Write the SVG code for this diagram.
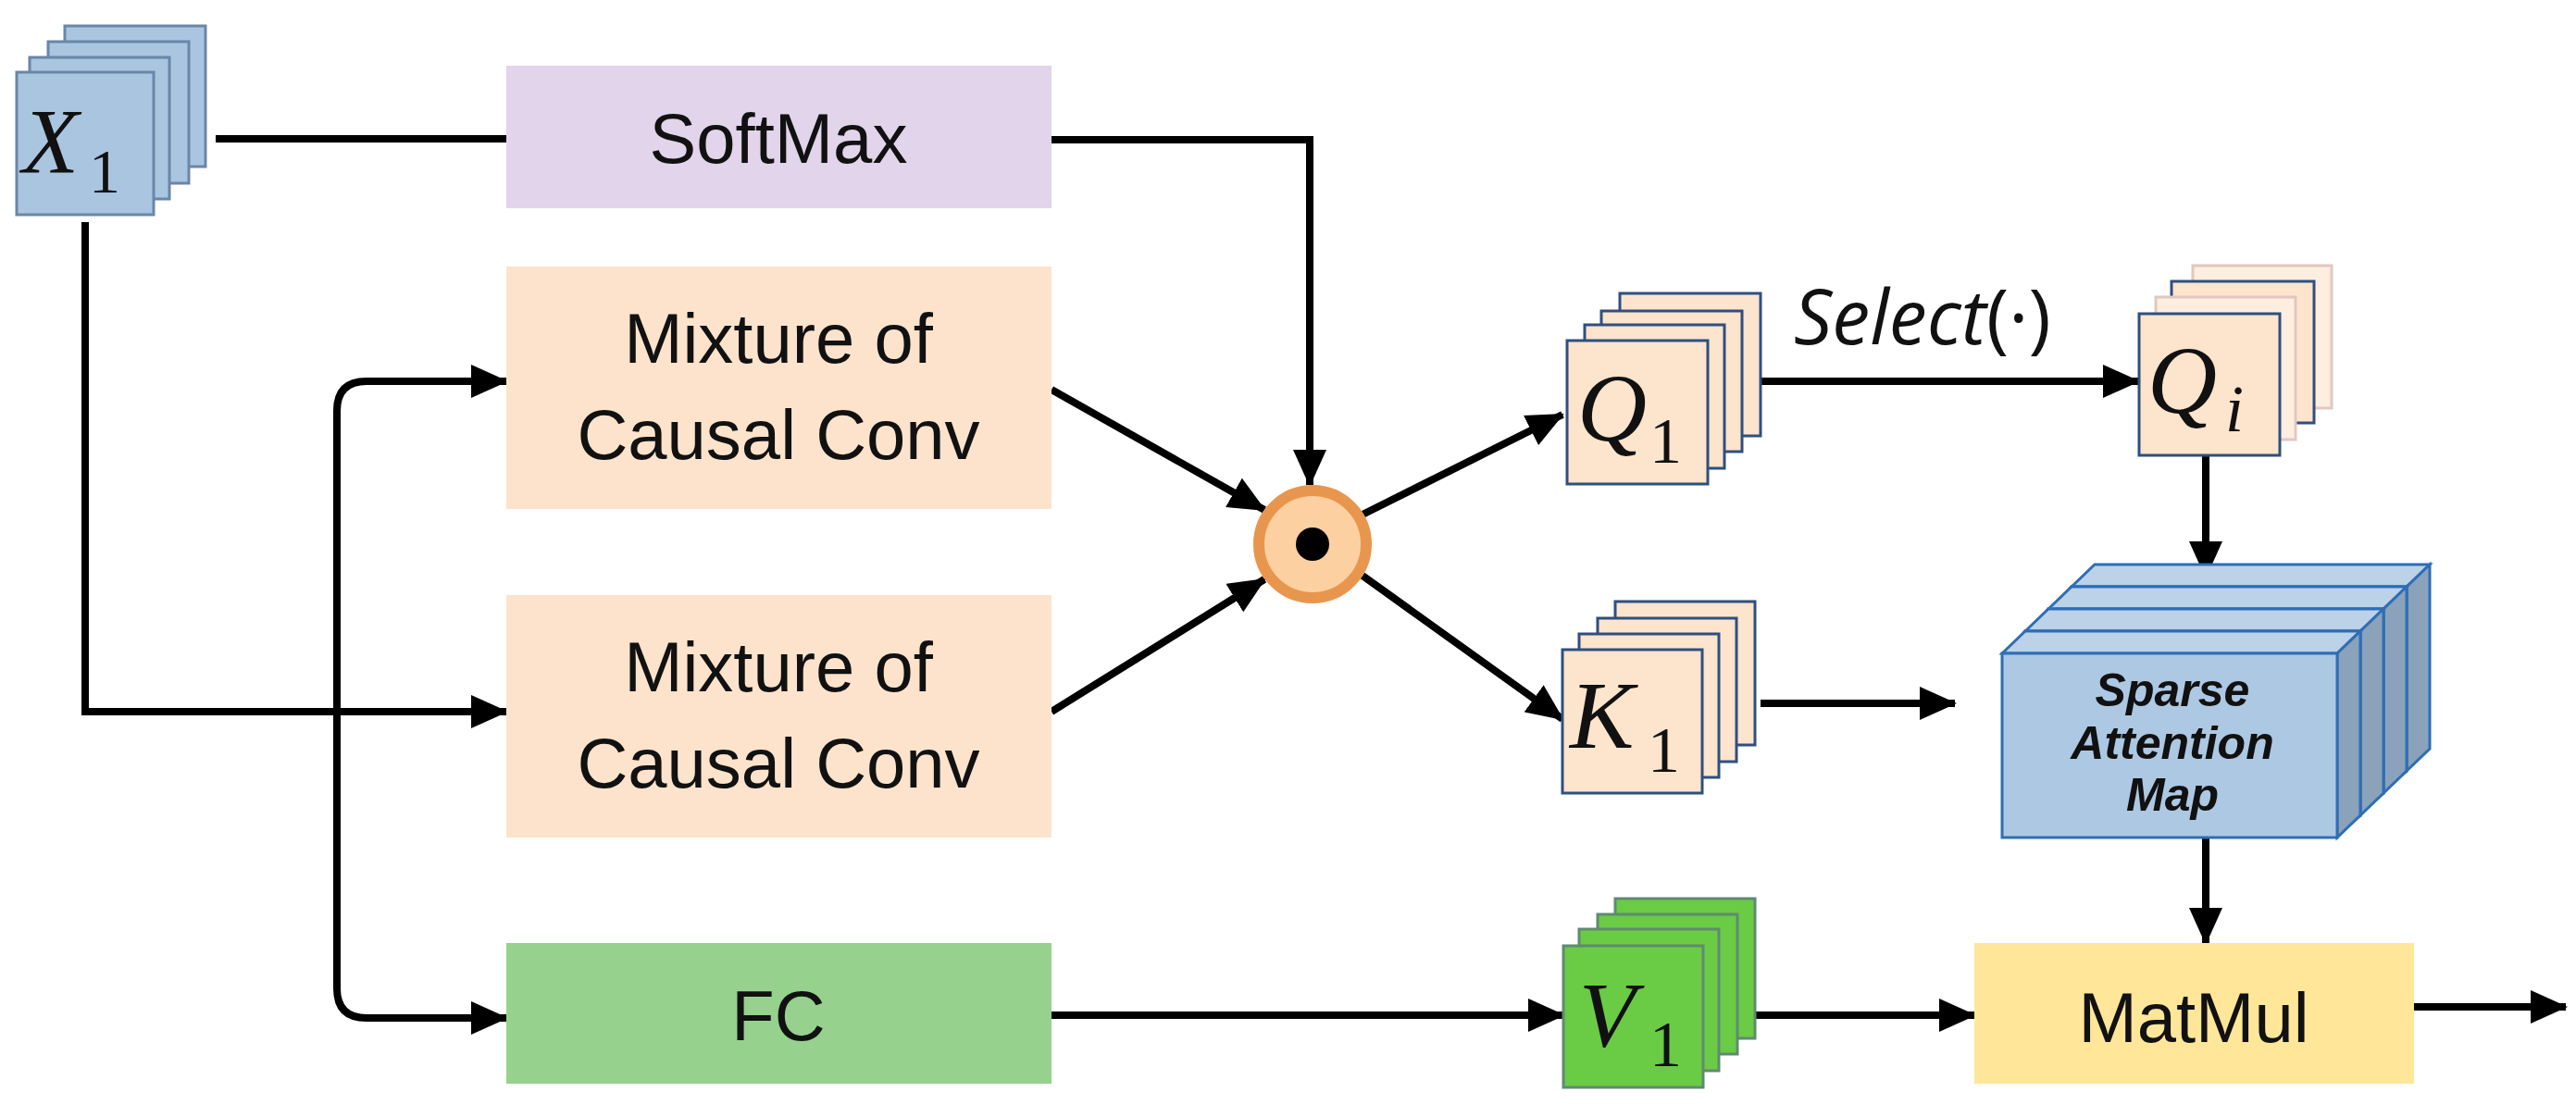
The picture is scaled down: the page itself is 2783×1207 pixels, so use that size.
<svg xmlns="http://www.w3.org/2000/svg" width="2783" height="1207" viewBox="0 0 2783 1207">
<style>
.ln{fill:none;stroke:#000;stroke-width:8}
.box{font-family:"Liberation Sans",Arial,sans-serif;font-size:76px;text-anchor:middle;fill:#111}
.m{font-family:"Liberation Serif","Times New Roman",serif;font-style:italic;fill:#111}
.s{font-family:"Liberation Serif","Times New Roman",serif;fill:#111}
.xb{fill:#a9c5e0;stroke:#6a86a8;stroke-width:3}
.qb{fill:#fde4cc;stroke:#2f4f7f;stroke-width:3}
.qf{fill:#fdeee0;stroke:#e0c8c0;stroke-width:3}
.vb{fill:#6acb45;stroke:#5f8a72;stroke-width:3}
.mf{fill:#adc8e3;stroke:#2e6eb5;stroke-width:3}
.mt{fill:#bcd2e8;stroke:#2e6eb5;stroke-width:3}
.ms{fill:#8aa3ba;stroke:#2e6eb5;stroke-width:3}
</style>
<defs>
<marker id="ar" markerUnits="userSpaceOnUse" markerWidth="40" markerHeight="36" refX="38" refY="18" orient="auto">
<path d="M0,0 L40,18 L0,36 Z" fill="#000"/>
</marker>
</defs>
<rect width="2783" height="1207" fill="#fff"/>

<g id="connectors">
<path class="ln" d="M233,150 H547"/>
<path class="ln" d="M1136,151 H1415 V524" marker-end="url(#ar)"/>
<path class="ln" d="M92,240 V769 H547" marker-end="url(#ar)"/>
<path class="ln" d="M547,412 H396 Q364,412 364,444 V1068 Q364,1100 396,1100 H547" marker-end="url(#ar)"/>
<path class="ln" d="M396,412 H547" marker-end="url(#ar)"/>
<path class="ln" d="M1136,421 L1366,551" marker-end="url(#ar)"/>
<path class="ln" d="M1136,769 L1366,626" marker-end="url(#ar)"/>
<path class="ln" d="M1472,556 L1688,448" marker-end="url(#ar)"/>
<path class="ln" d="M1472,622 L1688,777" marker-end="url(#ar)"/>
<path class="ln" d="M1902,412 H2310" marker-end="url(#ar)"/>
<path class="ln" d="M1902,760 H2112" marker-end="url(#ar)"/>
<path class="ln" d="M2383,492 V623" marker-end="url(#ar)"/>
<path class="ln" d="M2383,905 V1019" marker-end="url(#ar)"/>
<path class="ln" d="M1136,1097 H1689" marker-end="url(#ar)"/>
<path class="ln" d="M1896,1097 H2133" marker-end="url(#ar)"/>
<path class="ln" d="M2608,1088 H2772" marker-end="url(#ar)"/>
</g>

<g id="x1">
<rect class="xb" x="70" y="28" width="152" height="152"/>
<rect class="xb" x="52" y="45" width="152" height="153"/>
<rect class="xb" x="32" y="62" width="151" height="153"/>
<rect class="xb" x="18" y="78" width="148" height="154"/>
<text class="m" x="24" y="186" font-size="100">X</text>
<text class="s" x="96" y="208" font-size="68">1</text>
</g>

<g id="softmax">
<rect x="547" y="71" width="589" height="154" fill="#e2d4ea"/>
<text class="box" x="841" y="176" font-size="84">SoftMax</text>
</g>
<g id="mix1">
<rect x="547" y="288" width="589" height="262" fill="#fde3cc"/>
<text class="box" x="841" y="392">Mixture of</text>
<text class="box" x="841" y="496">Causal Conv</text>
</g>
<g id="mix2">
<rect x="547" y="643" width="589" height="262" fill="#fde3cc"/>
<text class="box" x="841" y="747">Mixture of</text>
<text class="box" x="841" y="851">Causal Conv</text>
</g>
<g id="fc">
<rect x="547" y="1019" width="589" height="152" fill="#96d18e"/>
<text class="box" x="841" y="1124" font-size="80">FC</text>
</g>

<g id="mult">
<circle cx="1418" cy="588" r="58" fill="#fdd0a2" stroke="#e8964e" stroke-width="12"/>
<circle cx="1418" cy="588" r="18" fill="#000"/>
</g>

<g id="q1">
<rect class="qb" x="1750" y="317" width="152" height="154"/>
<rect class="qb" x="1730" y="336" width="152" height="152"/>
<rect class="qb" x="1712" y="351" width="151" height="155"/>
<rect class="qb" x="1693" y="368" width="152" height="155"/>
<text class="m" x="1704" y="476" font-size="104">Q</text>
<text class="s" x="1782" y="500" font-size="70">1</text>
</g>

<g id="k1">
<rect class="qb" x="1745" y="650" width="151" height="155"/>
<rect class="qb" x="1726" y="668" width="150" height="155"/>
<rect class="qb" x="1706" y="685" width="151" height="155"/>
<rect class="qb" x="1688" y="702" width="151" height="155"/>
<text class="m" x="1696" y="808" font-size="104">K</text>
<text class="s" x="1780" y="834" font-size="70">1</text>
</g>

<g id="select">
<text x="1938" y="372" font-family="'Open Sans','Liberation Sans',sans-serif" font-size="82" fill="#111"><tspan font-style="italic">Select</tspan>(·)</text>
</g>

<g id="qi">
<rect class="qf" x="2369" y="287" width="150" height="154"/>
<rect class="qb" x="2346" y="304" width="154" height="153"/>
<rect class="qf" x="2329" y="321" width="151" height="154"/>
<rect class="qb" x="2311" y="339" width="152" height="153"/>
<text class="m" x="2320" y="446" font-size="104">Q</text>
<text class="m" x="2404" y="466" font-size="72">i</text>
</g>

<g id="map">
<g transform="translate(75,-72)">
<path class="mt" d="M2163,706 L2188,682 H2550 L2525,706 Z"/>
<path class="ms" d="M2525,706 L2550,682 V881 L2525,905 Z"/>
<rect class="mf" x="2163" y="706" width="362" height="199"/>
</g>
<g transform="translate(50,-48)">
<path class="mt" d="M2163,706 L2188,682 H2550 L2525,706 Z"/>
<path class="ms" d="M2525,706 L2550,682 V881 L2525,905 Z"/>
<rect class="mf" x="2163" y="706" width="362" height="199"/>
</g>
<g transform="translate(25,-24)">
<path class="mt" d="M2163,706 L2188,682 H2550 L2525,706 Z"/>
<path class="ms" d="M2525,706 L2550,682 V881 L2525,905 Z"/>
<rect class="mf" x="2163" y="706" width="362" height="199"/>
</g>
<path class="mt" d="M2163,706 L2188,682 H2550 L2525,706 Z"/>
<path class="ms" d="M2525,706 L2550,682 V881 L2525,905 Z"/>
<rect class="mf" x="2163" y="706" width="362" height="199"/>
<g font-family="'Liberation Sans',Arial,sans-serif" font-size="50" font-weight="bold" font-style="italic" text-anchor="middle" fill="#111">
<text x="2347" y="763">Sparse</text>
<text x="2347" y="820">Attention</text>
<text x="2347" y="876">Map</text>
</g>
</g>

<g id="v1">
<rect class="vb" x="1745" y="971" width="151" height="151"/>
<rect class="vb" x="1726" y="988" width="151" height="151"/>
<rect class="vb" x="1706" y="1004" width="151" height="153"/>
<rect class="vb" x="1689" y="1022" width="151" height="153"/>
<text class="m" x="1706" y="1130" font-size="100">V</text>
<text class="s" x="1782" y="1152" font-size="70">1</text>
</g>

<g id="matmul">
<rect x="2133" y="1019" width="475" height="152" fill="#ffe699"/>
<text class="box" x="2370" y="1126" font-size="96">MatMul</text>
</g>
</svg>
